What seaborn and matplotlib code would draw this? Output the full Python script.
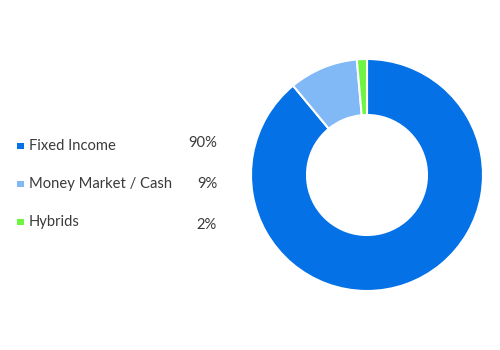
import matplotlib
matplotlib.use("Agg")
import matplotlib.pyplot as plt
import seaborn as sns
import numpy as np

categories = ["Fixed Income", "Money Market / Cash", "Hybrids"]
shares = [89.0, 9.6, 1.4]
pct_labels = ["90%", "9%", "2%"]
colors = ["#0571e6", "#80b9f5", "#6df542"]

sns.set_theme(style="white")
plt.rcParams['font.family'] = ['Lato', 'DejaVu Sans']
text_color = "#3a3a3a"

fig = plt.figure(figsize=(5, 3.5), dpi=100)
fig.patch.set_facecolor("white")

# legend area in pixel coordinates
lax = fig.add_axes([0, 0, 1, 1])
lax.set_xlim(0, 500)
lax.set_ylim(350, 0)
lax.axis("off")
rows = np.arange(len(categories))
label_y = 146 + rows * 38
pct_y = 143 + rows * 41
lax.scatter(np.full(len(rows), 20.5), label_y, marker="s", s=22, c=colors, linewidths=0)
for i, cat in enumerate(categories):
    lax.text(29, label_y[i], cat, fontsize=10.6, color=text_color, va="center", ha="left")
    lax.text(217, pct_y[i], pct_labels[i], fontsize=10.6, color=text_color, va="center", ha="right")

# donut
ax = fig.add_axes([251 / 500, (350 - 291) / 350, 232 / 500, 232 / 350])
ax.pie(shares, colors=colors, startangle=90, counterclock=False, radius=1.0,
       wedgeprops=dict(width=1 - 60 / 116, edgecolor="white", linewidth=1.5))
ax.set_xlim(-1, 1)
ax.set_ylim(-1, 1)
ax.set_aspect("equal")
ax.axis("off")

fig.savefig("out.png", dpi=100, facecolor="white")
